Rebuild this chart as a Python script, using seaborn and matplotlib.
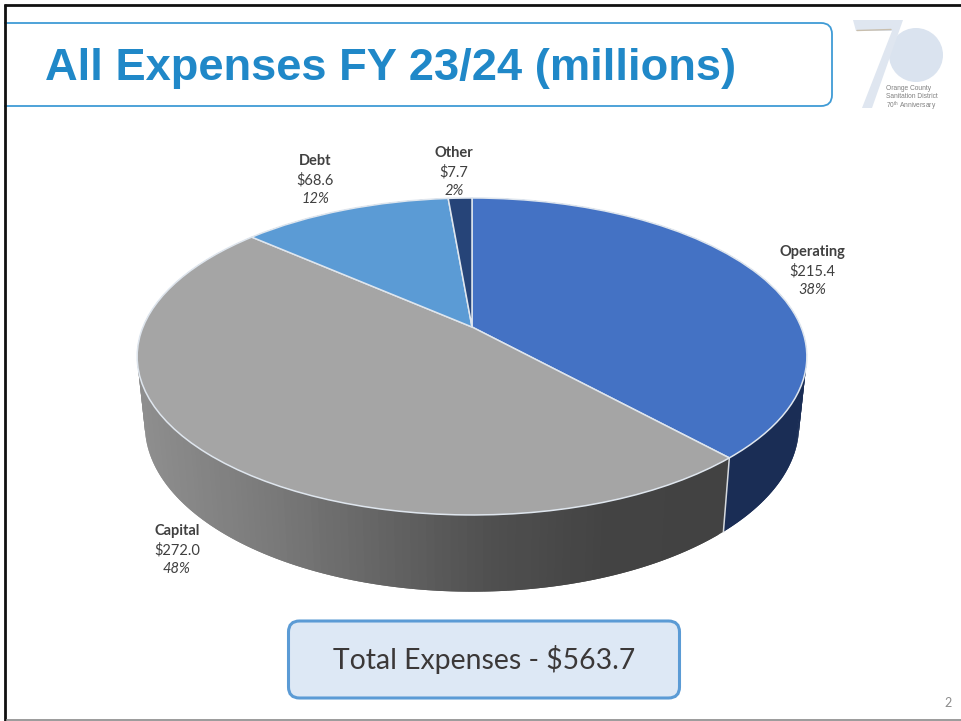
import numpy as np
import seaborn as sns
import matplotlib
matplotlib.use('Agg')
import matplotlib.pyplot as plt
from matplotlib.patches import FancyBboxPatch, Circle, Polygon, Rectangle
from matplotlib.transforms import Transform

categories = ['Operating', 'Capital', 'Debt', 'Other']
amounts = [215.4, 272.0, 68.6, 7.7]
amount_labels = ['$215.4', '$272.0', '$68.6', '$7.7']
percent_labels = ['38%', '48%', '12%', '2%']
total_label = 'Total Expenses - $563.7'
title = 'All Expenses FY 23/24 (millions)'
logo_lines = ['Orange County', 'Sanitation District', '70$^{th}$ Anniversary']

top_colors = ['#4472c4', '#a5a5a5', '#5b9bd5', '#264478']
label_xy = [(812, 252), (177, 531), (315, 161), (454, 153)]

sns.set_theme(style='white')
plt.rcParams['font.family'] = ['Lato', 'DejaVu Sans']
plt.rcParams['mathtext.default'] = 'regular'

fig = plt.figure(figsize=(9.61, 7.21), dpi=100)
ax = fig.add_axes([0, 0, 1, 1])


# tilted disc, fitted to the picture: unit circle -> pixels
def persp(u, v):
    w = 1 + 0.186 * v
    return 472 + 329 * u / w, 327 - 153 * v / w


def lower(u, v):
    x, y = persp(u, v)
    return 472 + 0.977 * (x - 472), 1.05 * y + 51


class Tilt(Transform):
    input_dims = output_dims = 2

    def transform_non_affine(self, xy):
        x, y = persp(xy[:, 0], xy[:, 1])
        return np.column_stack([x, y])


wedges, _ = ax.pie(amounts, colors=top_colors, startangle=90, counterclock=False,
                   wedgeprops=dict(edgecolor='#dfe6ee', linewidth=1.1, zorder=5))
for w in wedges:
    w.set_transform(Tilt() + ax.transData)

ax.set_aspect('auto')
ax.set_xlim(0, 961)
ax.set_ylim(721, 0)
ax.axis('off')

# side wall, coloured left to right. each strip runs under the next one so no seams show
gray_ramp = sns.blend_palette(['#8e8e8e', '#7c7c7c', '#666666', '#505050', '#434343', '#424242'], 256)
navy_ramp = sns.blend_palette(['#172a52', '#1a2d55'], 256)
ramps = [navy_ramp, gray_ramp, gray_ramp, navy_ramp]

fracs = np.cumsum([0] + amounts) / np.sum(amounts)
for i in range(len(amounts)):
    t = np.linspace(fracs[i], fracs[i + 1], 150) * 2 * np.pi
    u, v = np.sin(t), np.cos(t)
    x0, y0 = persp(u, v)
    x1, y1 = lower(u, v)
    for j in range(len(t) - 1):
        k = min(j + 2, len(t) - 1)
        mid = (x0[j] + x1[j]) / 2
        c = ramps[i][int(np.clip((mid - 145) / (723 - 145), 0, 1) * 255)]
        ax.fill([x0[j], x0[k], x1[k], x1[j]], [y0[j], y0[k], y1[k], y1[j]],
                color=c, lw=0, zorder=2)

# seam between operating and capital on the wall
t_seam = fracs[1] * 2 * np.pi
xa, ya = persp(np.sin(t_seam), np.cos(t_seam))
xb, yb = lower(np.sin(t_seam), np.cos(t_seam))
ax.plot([xa, xb], [ya, yb], color='#d5d9de', lw=1.1, zorder=3)

# data labels
for name, amt, pct, (x, y) in zip(categories, amount_labels, percent_labels, label_xy):
    ax.text(x, y, name, ha='center', va='center', fontsize=10.5, fontweight='bold', color='#404040')
    ax.text(x, y + 19, amt, ha='center', va='center', fontsize=10.5, color='#404040')
    ax.text(x, y + 38, pct, ha='center', va='center', fontsize=10.5, style='italic', color='#404040')

# slide furniture
ax.add_patch(FancyBboxPatch((-30, 23), 862, 83, boxstyle='round,pad=0,rounding_size=11',
                            fc='white', ec='#3f9bd6', lw=1.3, zorder=1))
ax.text(45, 80, title, ha='left', va='baseline', fontsize=32.6, fontweight='bold',
        family='Liberation Sans', color='#2088c8')

ax.add_patch(FancyBboxPatch((288.5, 621), 391, 77, boxstyle='round,pad=0,rounding_size=11',
                            fc='#dde8f5', ec='#5b9bd5', lw=2.2, zorder=6))
ax.text(484, 660, total_label, ha='center', va='center', fontsize=20.4, color='#3b3838', zorder=7)

# logo
ax.add_patch(Circle((916, 55), 27, fc='#dae3ef', ec='none', zorder=2))
ax.add_patch(Polygon([(853, 20), (903, 20), (872, 108), (862, 108), (892, 31), (856, 31)],
                     fc='#dfe6f0', ec='none', zorder=3))
ax.plot([857, 891], [30.5, 29.5], color='#c9bfae', lw=1, zorder=4)
for k, line in enumerate(logo_lines):
    ax.text(886, 88 + k * 9, line, ha='left', va='center', fontsize=4.8, family='Liberation Sans',
            color='#808080', zorder=5)

ax.text(948, 703, '2', ha='center', va='center', fontsize=9, color='#8c8c8c')

# page frame
ax.add_patch(Rectangle((0, 0), 4, 721, fc='white', ec='none', zorder=7))
ax.plot([5.3, 5.3], [3.5, 721], color='#111111', lw=2, solid_capstyle='butt', zorder=8)
ax.plot([4, 961], [4.7, 4.7], color='#111111', lw=2, solid_capstyle='butt', zorder=8)
ax.plot([6, 961], [720, 720], color='#8a8a8a', lw=1.2, solid_capstyle='butt', zorder=8)

fig.savefig('out.png', dpi=100, facecolor='white')
